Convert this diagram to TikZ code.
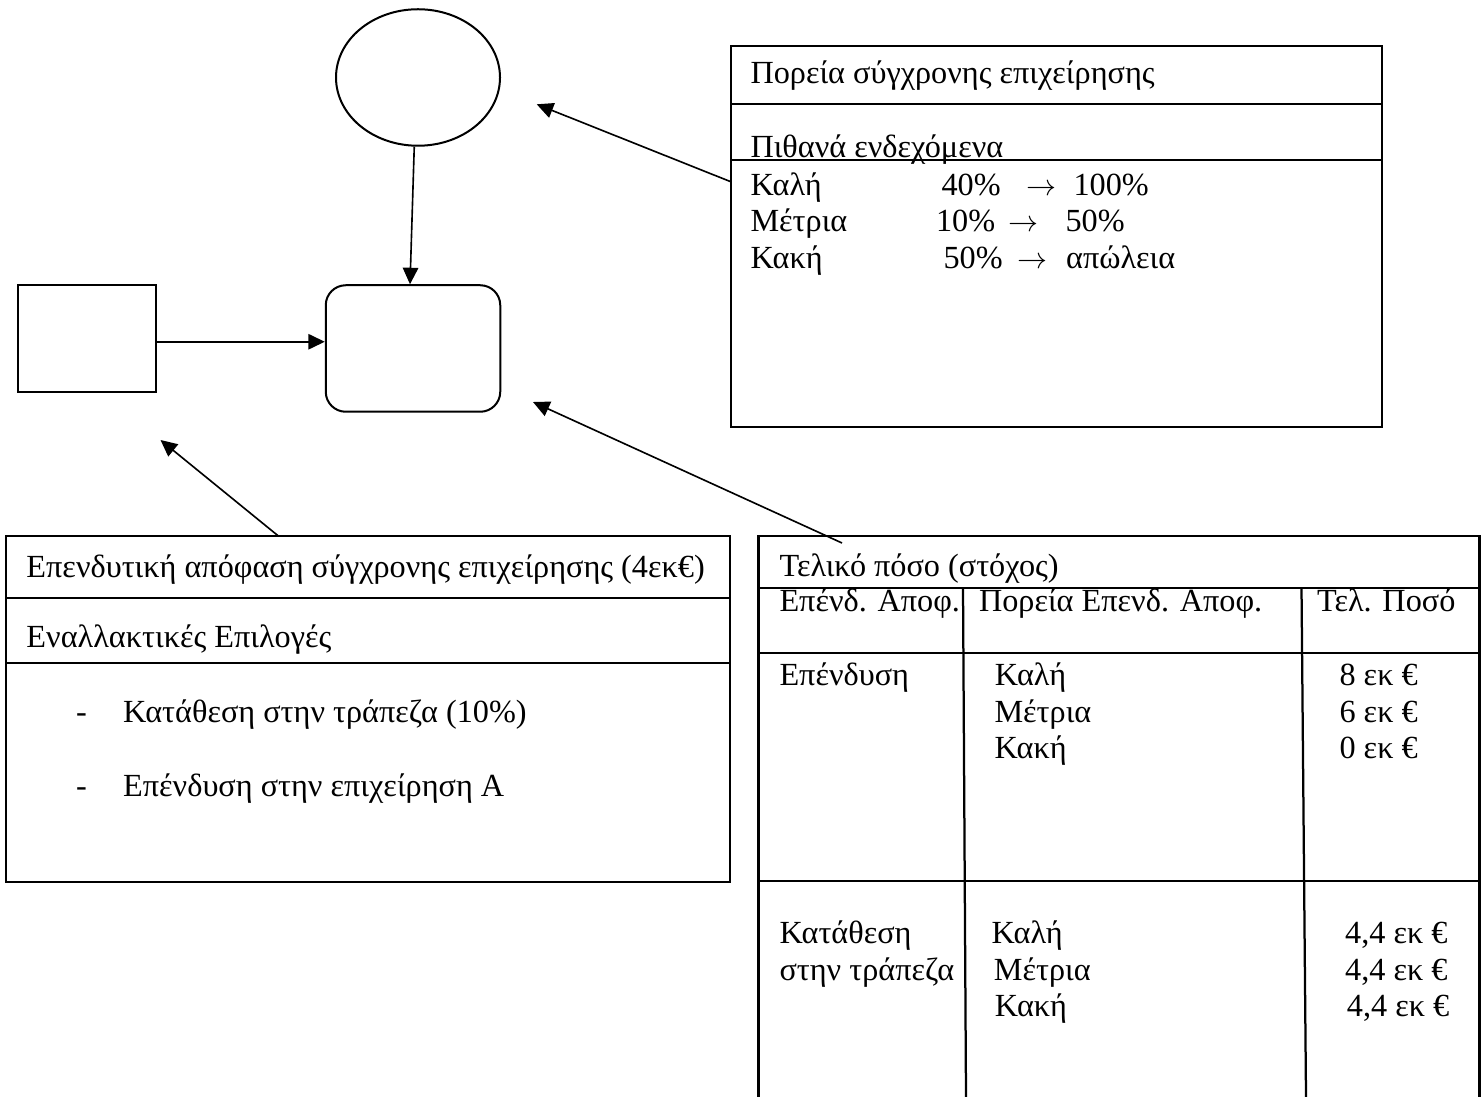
\documentclass[tikz,border=0pt]{standalone}
\usepackage{fontspec}
\setmainfont{Liberation Serif}
\usetikzlibrary{arrows.meta,shapes.geometric}
\newcommand{\toarrow}{$\rightarrow$}
\begin{document}
\begin{tikzpicture}[x=0.4pt,y=-0.4pt,
  frame/.style={draw,line width=0.9pt},
  shapeline/.style={draw,line width=0.8pt,inner sep=0pt},
  arr/.style={line width=0.65pt,-{Triangle[length=6.6pt,width=6.2pt]}},
  txt/.style={anchor=base west,inner sep=0pt,font=\fontsize{12.9}{15}\selectfont},
]
\useasboundingbox (0,0) rectangle (1484,1097);

% ---- decision diagram symbols ----
\node[shapeline,ellipse,minimum width=65.6pt,minimum height=54.6pt] (chance) at (418,77.5) {};
\node[shapeline,rectangle,rounded corners=8pt,minimum width=69.8pt,minimum height=50.6pt] (value) at (413,348.5) {};
\node[shapeline,rectangle,minimum width=55.4pt,minimum height=42.6pt] (decision) at (87,338.5) {};

\draw[arr] ([xshift=-1.5pt]chance.south) -- ([xshift=-1.2pt]value.north);
\draw[arr] ([yshift=-1.3pt]decision.east) -- ([yshift=-1.3pt]decision.east -| value.west);

% ---- course box ----
\node[frame,rectangle,inner sep=0pt,minimum width=260.5pt,minimum height=152.5pt] (course) at (1056.35,236.35) {};
\draw[frame] (730.7,103.7) -- (1382,103.7);
\draw[frame] (730.7,159.7) -- (1382,159.7);
\node[txt] (c0) at (750,84) {Πορεία σύγχρονης επιχείρησης};
\node[txt] (c1) at (750,158) {Πιθανά ενδεχόμενα};
\node[txt] (c2a) at (750,195.5) {Καλή};
\node[txt] (c2b) at (941,195.5) {40\%};
\node[txt] (c2c) at (1026,195.5) {\toarrow};
\node[txt] (c2d) at (1073,195.5) {100\%};
\node[txt] (c3a) at (750,232) {Μέτρια};
\node[txt] (c3b) at (935.5,232) {10\%};
\node[txt] (c3c) at (1008,232) {\toarrow};
\node[txt] (c3d) at (1065,232) {50\%};
\node[txt] (c4a) at (750,268.5) {Κακή};
\node[txt] (c4b) at (943,268.5) {50\%};
\node[txt] (c4c) at (1017,268.5) {\toarrow};
\node[txt] (c4d) at (1065.6,268.5) {απώλεια};

% ---- investment decision box ----
\node[frame,rectangle,inner sep=0pt,minimum width=289.6pt,minimum height=138.4pt] (invest) at (368,708.7) {};
\draw[frame] (6,597.7) -- (730,597.7);
\draw[frame] (6,663.3) -- (730,663.3);
\node[txt] (i0) at (26,577) {Επενδυτική απόφαση σύγχρονης επιχείρησης (4εκ€)};
\node[txt] (i1) at (26,647) {Εναλλακτικές Επιλογές};
\node[txt] (i2a) at (75.5,722) {-};
\node[txt] (i2b) at (122.7,722) {Κατάθεση στην τράπεζα (10\%)};
\node[txt] (i3a) at (75.5,796) {-};
\node[txt] (i3b) at (122.7,796) {Επένδυση στην επιχείρηση Α};

% ---- final amount table (open at the bottom) ----
\draw[frame] (758.4,1097) -- (758.4,535.7) -- (1479.5,535.7) -- (1479.5,1097);
\draw[frame] (758.4,587.7) -- (1479.5,587.7);
\draw[frame] (758.4,653.3) -- (1479.5,653.3);
\draw[frame] (758.4,881) -- (1479.5,881);
\draw[frame] (963,587.7) -- (966,1097);
\draw[frame] (1301.5,587.7) -- (1306,1097);
\node[txt] (t0) at (779,576) {Τελικό πόσο (στόχος)};
\node[txt] (h1) at (779,611.8) {Επένδ. Αποφ.};
\node[txt] (h2) at (978.5,611.8) {Πορεία Επενδ. Αποφ.};
\node[txt] (h3) at (1316.5,611.8) {Τελ. Ποσό};
\node[txt] (r1a) at (779,685.5) {Επένδυση};
\node[txt] (r1b) at (994.4,685.5) {Καλή};
\node[txt] (r1c) at (994,722) {Μέτρια};
\node[txt] (r1d) at (994,758.5) {Κακή};
\node[txt] (r1e) at (1339,685.5) {8 εκ €};
\node[txt] (r1f) at (1339,722) {6 εκ €};
\node[txt] (r1g) at (1339,758.5) {0 εκ €};
\node[txt] (r2a) at (779,943.8) {Κατάθεση};
\node[txt] (r2b) at (779,980) {στην τράπεζα};
\node[txt] (r2c) at (991,943.8) {Καλή};
\node[txt] (r2d) at (993.4,980) {Μέτρια};
\node[txt] (r2e) at (994.4,1016.5) {Κακή};
\node[txt] (r2f) at (1344.6,943.8) {4,4 εκ €};
\node[txt] (r2g) at (1344.6,980) {4,4 εκ €};
\node[txt] (r2h) at (1346.4,1016.5) {4,4 εκ €};

% ---- pointer arrows ----
\coordinate (courseout) at (730.7,181.7);
\coordinate (courseto) at (536.7,104.3);
\coordinate (investout) at (278,535.7);
\coordinate (investto) at (160.5,440);
\coordinate (tableout) at (842,543);
\coordinate (tableto) at (533,402);
\draw[arr] (courseout) -- (courseto);
\draw[arr] (investout) -- (investto);
\draw[arr] (tableout) -- (tableto);
\end{tikzpicture}
\end{document}
